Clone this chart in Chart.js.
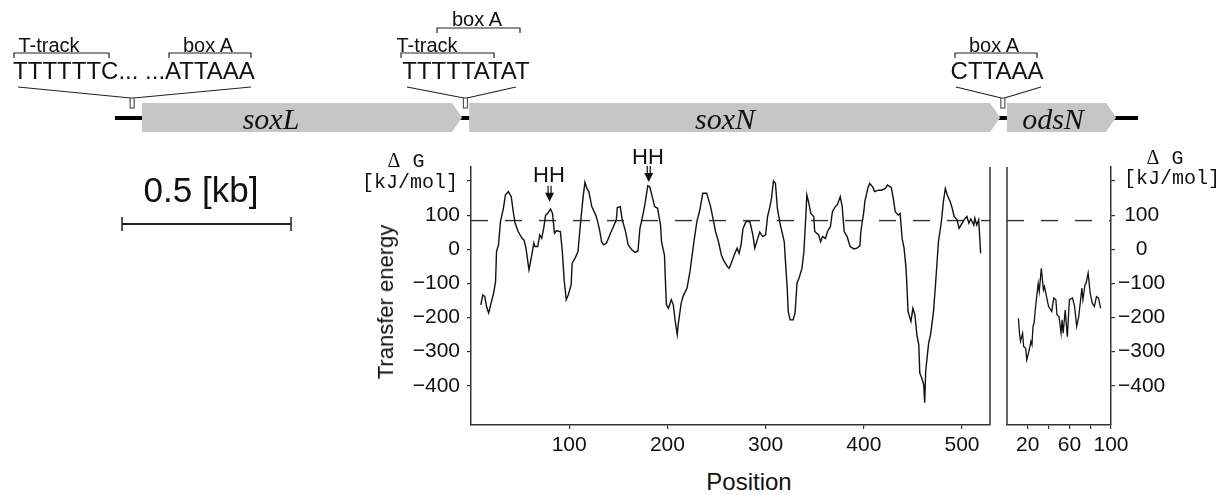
<!DOCTYPE html>
<html>
<head>
<meta charset="utf-8">
<script src="https://cdn.jsdelivr.net/npm/chart.js@4.4.1/dist/chart.umd.min.js"></script>
<style>
  body { margin: 0; background: #fff; width: 1231px; height: 495px; position: relative; overflow: hidden;
         font-family: "Liberation Sans", Arial, sans-serif; color: #111; }
  canvas { position: absolute; }
  .t { position: absolute; white-space: nowrap; line-height: 1; transform: translate(-50%, -50%); }
  .lbl { font-size: 20px; }
  .seq { font-size: 24px; }
  .gene { font-family: "Liberation Serif", serif; font-style: italic; font-size: 30px; }
  .mono { font-family: "Liberation Mono", monospace; font-size: 20px; }
  .serif { font-family: "Liberation Serif", serif; }
</style>
</head>
<body>
<canvas id="profile" width="640" height="320" style="left:360px; top:140px"></canvas>
<canvas id="ods" width="231" height="320" style="left:1000px; top:140px"></canvas>
<canvas id="map" width="1231" height="240" style="left:0; top:0"></canvas>

<div class="t lbl" style="left:49px; top:45px">T-track</div>
<div class="t lbl" style="left:208px; top:45px">box A</div>
<div class="t seq" style="left:134px; top:71px">TTTTTTC... ...ATTAAA</div>
<div class="t lbl" style="left:477px; top:19px">box A</div>
<div class="t lbl" style="left:427px; top:45px">T-track</div>
<div class="t seq" style="left:466px; top:71px">TTTTTATAT</div>
<div class="t lbl" style="left:994px; top:45px">box A</div>
<div class="t seq" style="left:997px; top:71px">CTTAAA</div>
<div class="t gene" style="left:271px; top:119px">soxL</div>
<div class="t gene" style="left:725px; top:119px">soxN</div>
<div class="t gene" style="left:1053px; top:119px">odsN</div>
<div class="t" style="left:201px; top:189px; font-size:35px">0.5 [kb]</div>

<div class="t mono" style="left:406px; top:161px"><span class="serif">&Delta;</span> G</div>
<div class="t mono" style="left:410px; top:183px">[kJ/mol]</div>
<div class="t mono" style="left:1165px; top:158px"><span class="serif">&Delta;</span> G</div>
<div class="t mono" style="left:1172px; top:179px">[kJ/mol]</div>
<div class="t" style="left:549px; top:175px; font-size:22px">HH</div>
<div class="t" style="left:648px; top:157px; font-size:22px">HH</div>
<div class="t" style="left:386px; top:302px; font-size:22px; transform:translate(-50%,-50%) rotate(-90deg)">Transfer energy</div>
<div class="t" style="left:749px; top:482px; font-size:24px">Position</div>

<script>
// gene map, in bp
const mapWidthBp = 3642;
const geneNames = ['soxL', 'soxN', 'odsN'];
const geneStart = [420, 1388, 2979];
const geneEnd = [1367, 2959, 3302];
const backbone = [340, 3367];
const promoterSites = [391, 1377, 2967];
const scaleBar = [361, 861];

// transfer energy along soxN
const positions = [10, 12, 14, 16, 18, 20, 23, 25, 26, 28, 30, 33, 35, 38, 41, 43, 45, 48, 52, 54,
  56, 59, 61, 64, 65, 68, 70, 72, 74, 76, 78, 81, 83, 85, 87, 91, 93, 95, 97, 99,
  102, 103, 106, 109, 111, 114, 116, 118, 120, 123, 127, 129, 131, 133, 135, 138, 142, 145, 148, 149,
  152, 154, 157, 160, 164, 167, 170, 172, 174, 177, 180, 182, 185, 187, 190, 193, 194, 197, 198, 199,
  201, 204, 206, 208, 210, 211, 214, 216, 220, 223, 227, 230, 233, 236, 240, 244, 246, 249, 252, 255,
  257, 261, 263, 265, 268, 271, 273, 275, 277, 280, 284, 287, 289, 292, 294, 297, 300, 302, 304, 306,
  308, 310, 312, 315, 317, 319, 320, 322, 323, 325, 328, 330, 332, 334, 337, 339, 341, 342, 344, 346,
  349, 350, 354, 356, 358, 361, 363, 366, 368, 371, 373, 376, 378, 380, 383, 386, 390, 393, 396, 397,
  400, 401, 404, 406, 409, 411, 415, 418, 422, 424, 428, 430, 432, 435, 437, 439, 441, 443, 444, 445,
  448, 450, 452, 454, 456, 457, 459, 461, 462, 463, 466, 468, 471, 473, 476, 479, 481, 483, 485, 488,
  490, 492, 495, 497, 500, 502, 505, 507, 509, 512, 513, 515, 517, 519];
const energy = [-163, -134, -138, -170, -187, -163, -129, -95, -7, 13, 81, 120, 159, 169, 154, 110, 76, 52, 32, 27,
  3, -60, -31, 18, 8, 8, 42, 32, 61, 100, 105, 118, 105, 47, 54, 52, -7, -95, -148, -134,
  -104, -41, -26, -7, 61, 149, 196, 178, 169, 125, 100, 81, 55, 22, 13, 18, 47, 66, 86, 122,
  125, 86, 57, 13, -2, -9, -5, 61, 86, 130, 186, 183, 149, 125, 120, 71, 22, -17, -95, -163,
  -173, -148, -163, -211, -250, -221, -158, -138, -114, -65, 22, 81, 115, 164, 164, 125, 96, 52, 22, -17,
  -31, -51, -56, -41, -17, 3, -12, 13, 61, 81, 81, 42, 3, 32, 50, 37, 42, 96, 120, 149,
  200, 193, 120, 71, 47, 22, -26, -114, -182, -207, -207, -187, -99, -85, -56, -7, 100, 159, 135, 105,
  96, 52, 42, 22, 37, 32, 52, 66, 110, 125, 130, 154, 125, 52, 37, 8, 1, 3, 10, 52,
  110, 139, 178, 193, 183, 169, 173, 173, 178, 188, 181, 149, 110, 100, 105, 32, 3, -56, -114, -182,
  -211, -173, -192, -250, -280, -363, -377, -397, -450, -357, -275, -250, -182, -104, 22, 81, 139, 178, 159, 139,
  120, 96, 86, 61, 76, 86, 96, 76, 89, 71, 91, 71, 86, -12];

// transfer energy along odsN
const positionsOds = [11, 12, 13, 15, 16, 18, 19, 21, 23, 24, 25, 26, 28, 30, 31, 33, 35, 36, 38, 40,
  43, 45, 47, 48, 50, 52, 53, 54, 56, 58, 60, 63, 65, 67, 69, 72, 73, 75, 76, 78,
  80, 82, 84, 86, 88, 90];
const energyOds = [-202, -246, -270, -246, -285, -290, -324, -300, -270, -280, -226, -217, -153, -100, -124, -56, -119, -109, -139, -168,
  -182, -143, -148, -192, -197, -246, -207, -246, -178, -256, -148, -143, -168, -226, -197, -114, -148, -104, -100, -70,
  -129, -158, -168, -139, -143, -173];

const cutoff = 84;
const energyMin = -515;
const energyMax = 241;
const energyTicks = [200, 100, 0, -100, -200, -300, -400];
const positionMax = 528.5;
const positionTicks = [100, 200, 300, 400, 500];
const odsMax = 100;
const odsTicks = [20, 40, 60, 80, 100];
const odsLabels = [20, 60, 100];
const hhPositions = [80, 181];
const hhTips = [139, 197];

const ink = '#111';
const axisColor = '#333';
const axisFont = { family: 'Liberation Sans', size: 21 };
const minus = v => String(v).replace('-', '\u2212');

const sideLine = side => ({
  id: 'side' + side,
  afterDraw(chart) {
    const { ctx, chartArea: a } = chart;
    const x = side === 'right' ? a.right : a.left;
    ctx.save();
    ctx.strokeStyle = axisColor;
    ctx.lineWidth = 1.5;
    ctx.beginPath();
    ctx.moveTo(x, a.top);
    ctx.lineTo(x, a.bottom);
    ctx.stroke();
    ctx.restore();
  }
});

const hhArrows = {
  id: 'hh',
  afterDraw(chart) {
    const { ctx, scales } = chart;
    ctx.save();
    ctx.strokeStyle = ink;
    ctx.fillStyle = ink;
    ctx.lineWidth = 1.2;
    hhPositions.forEach((p, i) => {
      const x = scales.x.getPixelForValue(p);
      const y = scales.y.getPixelForValue(hhTips[i]);
      ctx.beginPath();
      ctx.moveTo(x - 1.5, y - 16); ctx.lineTo(x - 1.5, y - 8);
      ctx.moveTo(x + 1.5, y - 16); ctx.lineTo(x + 1.5, y - 8);
      ctx.stroke();
      ctx.beginPath();
      ctx.moveTo(x - 4.5, y - 9); ctx.lineTo(x + 4.5, y - 9); ctx.lineTo(x, y);
      ctx.closePath();
      ctx.fill();
    });
    ctx.restore();
  }
};

// text ends of the promoter call-outs and their brackets (page px)
const connectors = [[18, 251], [407, 516], [956, 1041]];
const brackets = [[14, 109, 53], [169, 251, 53], [437, 520, 28], [401, 494, 53], [955, 1037, 53]];

const geneMap = {
  id: 'genemap',
  afterDraw(chart) {
    const ctx = chart.ctx;
    const px = v => chart.scales.x.getPixelForValue(v);
    ctx.save();
    ctx.strokeStyle = '#000';
    ctx.lineWidth = 4;
    ctx.beginPath();
    ctx.moveTo(px(backbone[0]), 118);
    ctx.lineTo(px(backbone[1]), 118);
    ctx.stroke();

    ctx.fillStyle = '#c6c6c6';
    geneStart.forEach((s, i) => {
      const x0 = px(s), x1 = px(geneEnd[i]);
      ctx.beginPath();
      ctx.moveTo(x0, 103);
      ctx.lineTo(x1 - 10, 103);
      ctx.lineTo(x1, 117.5);
      ctx.lineTo(x1 - 10, 132);
      ctx.lineTo(x0, 132);
      ctx.closePath();
      ctx.fill();
    });

    ctx.strokeStyle = '#222';
    ctx.lineWidth = 1.2;
    promoterSites.forEach((bp, i) => {
      const x = px(bp);
      ctx.beginPath();
      ctx.moveTo(connectors[i][0], 87); ctx.lineTo(x - 1.5, 98);
      ctx.moveTo(connectors[i][1], 87); ctx.lineTo(x + 1.5, 98);
      ctx.stroke();
      ctx.fillStyle = '#fff';
      ctx.fillRect(x - 2, 98, 4, 10);
      ctx.strokeStyle = '#555';
      ctx.strokeRect(x - 2, 98, 4, 10);
      ctx.strokeStyle = '#222';
    });

    brackets.forEach(([a, b, y]) => {
      ctx.beginPath();
      ctx.moveTo(a, y + 5); ctx.lineTo(a, y); ctx.lineTo(b, y); ctx.lineTo(b, y + 5);
      ctx.stroke();
    });

    // 0.5 kb scale bar
    const s0 = px(scaleBar[0]), s1 = px(scaleBar[1]);
    ctx.lineWidth = 2;
    ctx.beginPath();
    ctx.moveTo(s0, 224); ctx.lineTo(s1, 224);
    ctx.stroke();
    ctx.lineWidth = 1.5;
    ctx.beginPath();
    ctx.moveTo(s0, 217); ctx.lineTo(s0, 231);
    ctx.moveTo(s1, 217); ctx.lineTo(s1, 231);
    ctx.stroke();
    ctx.restore();
  }
};

const quiet = { legend: { display: false }, tooltip: { enabled: false } };
const tickGrid = { drawOnChartArea: false, tickLength: 4, color: axisColor, lineWidth: 1.2 };
const axisBorder = { color: axisColor, width: 1.5 };

new Chart(document.getElementById('map'), {
  type: 'scatter',
  data: { datasets: [] },
  options: {
    responsive: false, animation: false, events: [],
    layout: { padding: 0 },
    plugins: quiet,
    scales: {
      x: { type: 'linear', min: 0, max: mapWidthBp, display: false },
      y: { min: 0, max: 1, display: false }
    }
  },
  plugins: [geneMap]
});

new Chart(document.getElementById('profile'), {
  type: 'line',
  data: {
    datasets: [
      { data: positions.map((x, i) => ({ x, y: energy[i] })), borderColor: ink, borderWidth: 1.4, pointRadius: 0, tension: 0 },
      { data: [{ x: 0, y: cutoff }, { x: positionMax, y: cutoff }], borderColor: axisColor, borderWidth: 1.4, borderDash: [17, 17], pointRadius: 0 }
    ]
  },
  options: {
    responsive: false, animation: false, events: [],
    layout: { padding: { top: 27, right: 10, left: 0, bottom: 0 } },
    plugins: quiet,
    scales: {
      x: {
        type: 'linear', min: 0, max: positionMax,
        afterBuildTicks: s => { s.ticks = positionTicks.map(v => ({ value: v })); },
        afterFit: s => { s.height = 35; },
        ticks: { font: axisFont, color: ink, padding: 4, maxRotation: 0, autoSkip: false },
        grid: tickGrid, border: axisBorder
      },
      y: {
        min: energyMin, max: energyMax,
        afterBuildTicks: s => { s.ticks = energyTicks.map(v => ({ value: v })); },
        afterFit: s => { s.width = 111; },
        ticks: { font: axisFont, color: ink, padding: 7, autoSkip: false, callback: v => v === 200 ? '' : minus(v) },
        grid: tickGrid, border: axisBorder
      }
    }
  },
  plugins: [sideLine('right'), hhArrows]
});

new Chart(document.getElementById('ods'), {
  type: 'line',
  data: {
    datasets: [
      { data: positionsOds.map((x, i) => ({ x, y: energyOds[i] })), borderColor: ink, borderWidth: 1.3, pointRadius: 0, tension: 0 },
      { data: [{ x: 0, y: cutoff }, { x: odsMax, y: cutoff }], borderColor: axisColor, borderWidth: 1.4, borderDash: [17, 17], pointRadius: 0 }
    ]
  },
  options: {
    responsive: false, animation: false, events: [],
    layout: { padding: { top: 27, right: 0, left: 7, bottom: 0 } },
    plugins: quiet,
    scales: {
      x: {
        type: 'linear', min: 0, max: odsMax,
        afterBuildTicks: s => { s.ticks = odsTicks.map(v => ({ value: v })); },
        afterFit: s => { s.height = 35; },
        ticks: { font: axisFont, color: ink, padding: 4, maxRotation: 0, autoSkip: false,
                 callback: v => odsLabels.includes(v) ? String(v) : '' },
        grid: tickGrid, border: axisBorder
      },
      y: {
        position: 'right', min: energyMin, max: energyMax,
        afterBuildTicks: s => { s.ticks = energyTicks.map(v => ({ value: v })); },
        afterFit: s => { s.width = 120; },
        ticks: { font: axisFont, color: ink, padding: 3, crossAlign: 'center', autoSkip: false,
                 callback: v => v === 200 ? '' : minus(v) },
        grid: tickGrid, border: axisBorder
      }
    }
  },
  plugins: [sideLine('left')]
});
</script>
</body>
</html>
